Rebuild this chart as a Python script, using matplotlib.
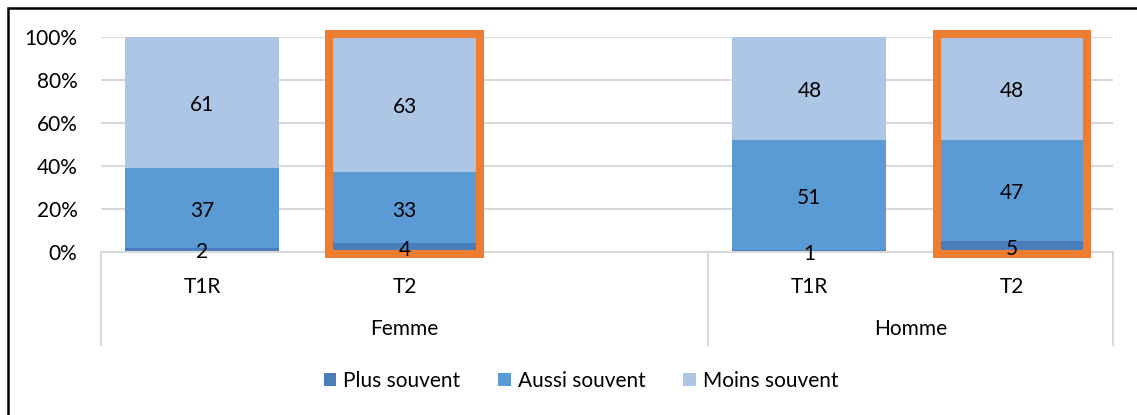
import matplotlib
matplotlib.use("Agg")
import matplotlib.pyplot as plt
from matplotlib.patches import Rectangle
from matplotlib.lines import Line2D
import matplotlib.transforms as mtransforms

plt.rcParams['font.family'] = ['Lato', 'DejaVu Sans']

# ---- data ----
periods = ["T1R", "T2", "", "T1R", "T2"]
groups = ["Femme", "Homme"]
group_spans = [(0, 2), (3, 4)]          # slot indices covered by each group
series_names = ["Plus souvent", "Aussi souvent", "Moins souvent"]
plus = [2, 4, None, 1, 5]
aussi = [37, 33, None, 51, 47]
moins = [61, 63, None, 48, 48]
highlight = [1, 4]                      # T2 bars are framed in orange

colors = ["#4A7EBB", "#5B9BD5", "#ADC6E6"]
grid_c = "#D9D9D9"
FS = 15
W, H = 1137, 415
fig = plt.figure(figsize=(W / 100, H / 100), dpi=100)
ax = fig.add_axes([101 / W, 1 - 252 / H, (1113 - 101) / W, (252 - 37) / H])

x = list(range(len(periods)))
bottoms = [0.0] * len(x)
for name, vals, col in zip(series_names, [plus, aussi, moins], colors):
    xs, hs, bs = [], [], []
    for i, v in enumerate(vals):
        if v is None:
            continue
        xs.append(i); hs.append(v / 100); bs.append(bottoms[i])
    ax.bar(xs, hs, bottom=bs, width=0.76, color=col, label=name, zorder=2,
           edgecolor="none")
    for xi, h, b, v in zip(xs, hs, bs, [v for v in vals if v is not None]):
        ax.text(xi, b + h / 2 - 0.012, str(v), ha="center", va="center", fontsize=FS,
                color="black", zorder=5)
    for xi, h in zip(xs, hs):
        bottoms[xi] += h

for i in highlight:
    ax.add_patch(Rectangle((i - 0.372, -0.008), 0.744, 1.02, fill=False,
                           edgecolor="#ED7D31", lw=5.8, zorder=4, clip_on=False))

ax.set_xlim(-0.5, len(x) - 0.5)
ax.set_ylim(0, 1)
ax.set_yticks([0, 0.2, 0.4, 0.6, 0.8, 1.0])
ax.set_yticklabels(["0%", "20%", "40%", "60%", "80%", "100%"], fontsize=FS)
ax.yaxis.grid(True, color=grid_c, lw=1.5, zorder=0)
ax.set_axisbelow(True)
ax.tick_params(axis="y", length=0, pad=17)
for s in ["top", "right", "left"]:
    ax.spines[s].set_visible(False)
ax.spines["bottom"].set_color(grid_c)
ax.spines["bottom"].set_linewidth(1.5)

ax.set_xticks(x)
ax.set_xticklabels(periods, fontsize=FS)
ax.tick_params(axis="x", length=0, pad=18)

# hierarchical category axis
trans = mtransforms.blended_transform_factory(ax.transData, ax.transAxes)
ax_h_px = 252 - 37
line_bottom = -(345 - 252) / ax_h_px
for xv in [-0.5, 2.5, 4.5]:
    ax.add_line(Line2D([xv, xv], [0, line_bottom], transform=trans, color=grid_c,
                       lw=1.5, clip_on=False))
for g, (a, b) in zip(groups, group_spans):
    ax.text((a + b) / 2, -(329 - 252) / ax_h_px, g, transform=trans, ha="center",
            va="center", fontsize=FS)

fig.legend(loc="center", bbox_to_anchor=(581 / W, 1 - 381 / H), ncol=3,
           frameon=False, fontsize=FS, handlelength=0.6, handleheight=0.6,
           handletextpad=0.35, columnspacing=1.8)

# outer chart frame (partially cropped)
fig.add_artist(Rectangle((7.5 / W, -0.1), 2.0, 1 - 8 / H + 0.1, transform=fig.transFigure,
                         fill=False, edgecolor="black", lw=1.8))

fig.savefig("out.png", dpi=100, facecolor="white")
